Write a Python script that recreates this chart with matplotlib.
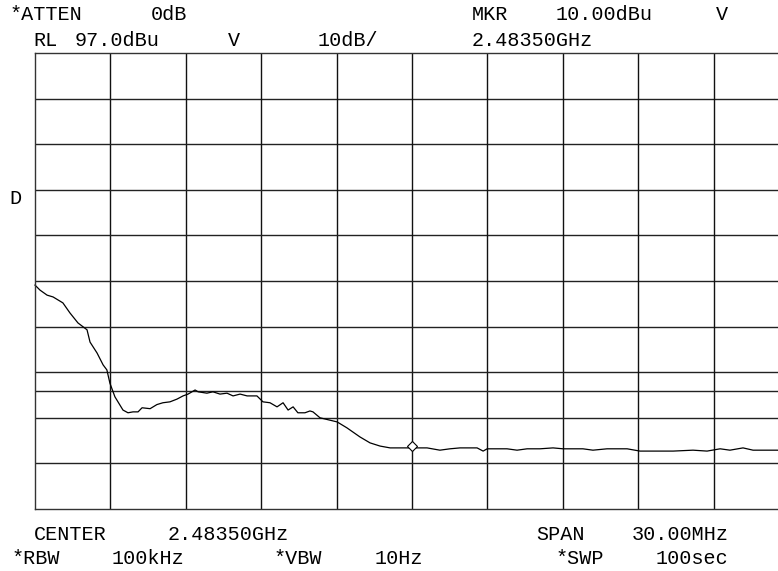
import numpy as np
import matplotlib
matplotlib.use('Agg')
import matplotlib.pyplot as plt
import matplotlib.transforms as mtransforms

#%% ajustes del analizador
center_mhz = 2483.5
span_mhz = 30.0
ref_level = 97.0      # dBu
db_div = 10.0
display_line = 22.9   # dBu, linea extra de pantalla

mkr_freq = 2483.5
mkr_level = 10.0

#%% traza leida de la pantalla (offset desde el inicio del span [MHz], nivel [dBu])
f_off = [0.00, 0.20, 0.48, 0.72, 1.11, 1.39, 1.71, 2.07, 2.19, 2.47,
         2.71, 2.86, 2.98, 3.18, 3.50, 3.70, 3.90, 4.10, 4.26, 4.58,
         4.85, 5.09, 5.37, 5.65, 5.89, 6.09, 6.37, 6.49, 6.84, 7.08,
         7.36, 7.64, 7.88, 8.16, 8.44, 8.83, 9.07, 9.35, 9.63, 9.87,
         10.07, 10.27, 10.46, 10.74, 10.94, 11.06, 11.34, 12.02, 12.41, 12.93,
         13.33, 13.73, 14.13, 14.52, 15.04, 15.60, 16.11, 16.51, 16.91, 17.59,
         17.83, 17.99, 18.78, 19.18, 19.58, 20.09, 20.61, 21.01, 21.41, 21.80,
         22.20, 22.76, 23.16, 23.56, 24.07, 25.39, 26.18, 26.74, 27.26, 27.65,
         28.17, 28.57, 29.52, 30.00]
level = [46.1, 45.0, 43.9, 43.5, 42.2, 40.0, 37.8, 36.3, 33.6, 31.2,
         28.6, 27.5, 24.6, 21.6, 18.7, 18.1, 18.3, 18.3, 19.2, 19.0,
         19.9, 20.3, 20.5, 21.1, 21.8, 22.2, 23.1, 22.7, 22.4, 22.7,
         22.2, 22.4, 21.8, 22.2, 21.8, 21.8, 20.5, 20.3, 19.4, 20.3,
         18.7, 19.4, 18.1, 18.1, 18.5, 18.3, 17.0, 16.1, 14.8, 12.8,
         11.5, 10.8, 10.4, 10.4, 10.4, 10.4, 9.9, 10.2, 10.4, 10.4,
         9.7, 10.2, 10.2, 9.9, 10.2, 10.2, 10.4, 10.2, 10.2, 10.2,
         9.9, 10.2, 10.2, 10.2, 9.7, 9.7, 9.9, 9.7, 10.2, 9.9,
         10.4, 9.9, 9.9, 9.8]

#%% textos de cabecera / pie  (texto, x px, y px)
textos = [('*ATTEN', 9, 14), ('0dB', 151, 14), ('MKR', 472, 14),
          ('10.00dBu', 556, 14), ('V', 716, 14),
          ('RL', 33, 40), ('97.0dBu', 75, 40), ('V', 228, 40),
          ('10dB/', 318, 40), ('2.48350GHz', 472, 40),
          ('D', 9, 198),
          ('CENTER', 34, 535), ('2.48350GHz', 168, 535),
          ('SPAN', 536, 535), ('30.00MHz', 632, 535),
          ('*RBW', 12, 558), ('100kHz', 112, 558), ('*VBW', 274, 558),
          ('10Hz', 375, 558), ('*SWP', 556, 558), ('100sec', 656, 558)]

#%% figura
W, H = 778, 571
fig = plt.figure(figsize=(W/100, H/100), dpi=100)
fig.patch.set_facecolor('white')

# rejilla: 10 div x 10 div, el borde derecho queda fuera de la imagen
x0, x1, y0, y1 = 35, 789, 53, 509
ax = fig.add_axes([x0/W, 1 - y1/H, (x1 - x0)/W, (y1 - y0)/H])

f_start = center_mhz - span_mhz/2
f_stop = center_mhz + span_mhz/2
ax.set_xlim(f_start, f_stop)
ax.set_ylim(ref_level - 10*db_div, ref_level)

for k in range(1, 10):
    ax.axvline(f_start + k*span_mhz/10, color='#111111', lw=1.0)
    ax.axhline(ref_level - k*db_div, color='#222222', lw=1.0)
ax.axhline(display_line, color='#222222', lw=1.0)

for s in ['left', 'top', 'bottom']:
    ax.spines[s].set_color('#333333')
    ax.spines[s].set_linewidth(1.0)
ax.spines['right'].set_visible(False)
ax.set_xticks([])
ax.set_yticks([])

# traza
freq = f_start + np.array(f_off)
ax.plot(freq, level, color='black', lw=0.9, clip_on=False)

# marcador
trans = mtransforms.offset_copy(ax.transData, fig=fig, x=0, y=3, units='points')
ax.plot([mkr_freq], [mkr_level], marker='D', markersize=5.5, mfc='white',
        mec='black', mew=0.8, transform=trans)

for t, x, y in textos:
    fig.text(x/W, 1 - y/H, t, family='Liberation Mono', fontsize=14.5,
             ha='left', va='center', color='black')

plt.savefig('out.png', dpi=100)
